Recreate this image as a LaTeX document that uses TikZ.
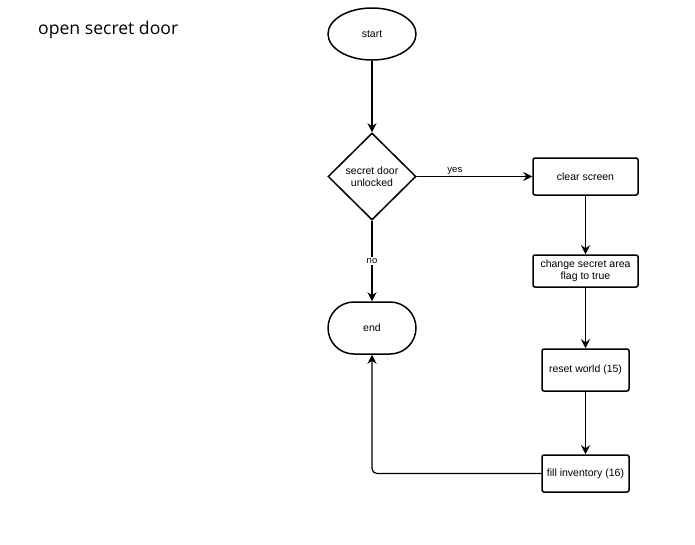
\documentclass[tikz,border=0pt]{standalone}
\usepackage{fontspec}
\setmainfont{Liberation Sans}
\newfontfamily\titlefont{Open Sans}
\usetikzlibrary{shapes.geometric,arrows.meta}
\begin{document}
\begin{tikzpicture}[x=1pt,y=-1pt,
  base/.style={draw=black,line width=1.5pt,align=center,font=\fontsize{10.5}{12.5}\selectfont,inner sep=1pt},
  term/.style={base,ellipse,minimum width=88pt,minimum height=52pt},
  stadium/.style={base,rectangle,rounded corners=26pt,minimum width=88pt,minimum height=52pt},
  decision/.style={base,diamond,minimum width=88pt,minimum height=87pt,inner sep=0pt},
  proc/.style={base,rectangle,rounded corners=2pt},
  conn/.style={line width=1.2pt,-{Stealth[length=9pt,width=9pt,inset=3pt]}},
  lbl/.style={font=\fontsize{9.5}{11}\selectfont,inner sep=1pt}]
\useasboundingbox (0,0) rectangle (695,544);
\node[font=\titlefont\fontsize{17.6}{20}\selectfont,anchor=west,inner sep=0pt] (title) at (38,30) {open secret door};
\node[term] (start) at (372,34) {start};
\node[decision] (dec) at (372,176.5) {secret door\\unlocked};
\node[proc,minimum width=105pt,minimum height=37pt] (clear) at (585.5,176.5) {clear screen};
\node[proc,minimum width=105pt,minimum height=32pt] (flag) at (585.5,271) {change secret area\\flag to true};
\node[stadium] (end) at (372,328) {end};
\node[proc,minimum width=87pt,minimum height=42pt] (reset) at (585.5,370) {reset world (15)};
\node[proc,minimum width=87pt,minimum height=37pt] (fill) at (585.5,473.5) {fill inventory (16)};
\draw[conn] (start) -- (dec);
\draw[conn] (dec) -- node[lbl,above,pos=0.33] {yes} (clear);
\draw[conn] (dec) -- node[lbl,fill=white,pos=0.5] {no} (end);
\draw[conn] (clear) -- (flag);
\draw[conn] (flag) -- (reset);
\draw[conn] (reset) -- (fill);
\draw[conn,rounded corners=5pt] (fill.west) -| (end.south);
\end{tikzpicture}
\end{document}
